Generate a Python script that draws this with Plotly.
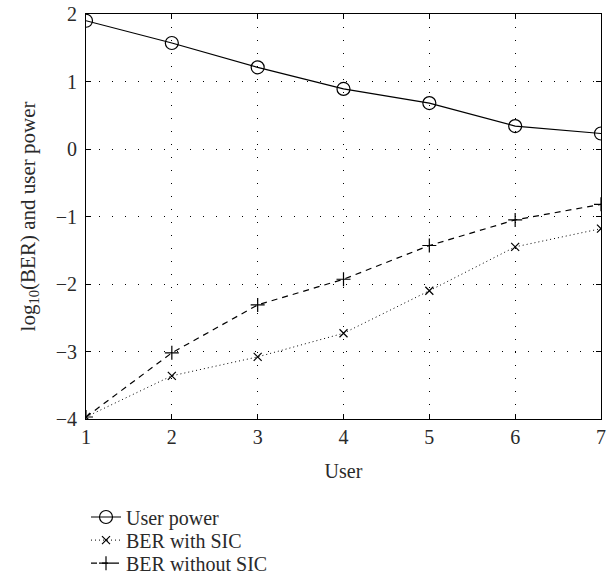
import plotly.graph_objects as go

users = [1, 2, 3, 4, 5, 6, 7]
user_power = [1.90, 1.57, 1.21, 0.89, 0.68, 0.34, 0.23]
ber_with_sic = [-3.97, -3.36, -3.08, -2.73, -2.10, -1.45, -1.18]
ber_without_sic = [-3.97, -3.02, -2.31, -1.93, -1.43, -1.05, -0.82]
y_ticks = [-4, -3, -2, -1, 0, 1, 2]
y_tick_labels = ["\u22124", "\u22123", "\u22122", "\u22121", "0", "1", "2"]

FONT = "Liberation Serif"
TXT = "#2a2a2a"
FS = 20

fig = go.Figure()
fig.add_trace(go.Scatter(
    x=users, y=user_power, name="User power", mode="lines+markers", legend="legend",
    line=dict(color="black", width=1.2),
    marker=dict(symbol="circle-open", size=13, color="black", line=dict(width=1.2)),
))
fig.add_trace(go.Scatter(
    x=users, y=ber_with_sic, name="BER with SIC", mode="lines+markers", legend="legend2",
    line=dict(color="black", width=1, dash="1px,3px"),
    marker=dict(symbol="x-thin-open", size=8, color="black", line=dict(width=1.2)),
))
fig.add_trace(go.Scatter(
    x=users, y=ber_without_sic, name="BER without SIC", mode="lines+markers", legend="legend3",
    line=dict(color="black", width=1.2, dash="6px,5px"),
    marker=dict(symbol="cross-thin-open", size=10, color="black", line=dict(width=1.2)),
))

axis_common = dict(
    showline=True, linecolor="black", linewidth=1, mirror="ticks",
    ticks="inside", ticklen=5, tickcolor="black",
    showgrid=True, gridcolor="black", griddash="1px,12px", gridwidth=1,
    zeroline=False, tickfont=dict(family=FONT, size=FS, color=TXT),
)

def leg(ypos):
    return dict(x=0.0, y=ypos, xanchor="left", yanchor="middle",
                font=dict(family=FONT, size=FS, color=TXT),
                bgcolor="rgba(0,0,0,0)", itemwidth=30)

fig.update_layout(
    width=612, height=582,
    margin=dict(l=86, r=11, t=14, b=163, autoexpand=False),
    paper_bgcolor="white", plot_bgcolor="white",
    font=dict(family=FONT, size=FS, color=TXT),
    xaxis=dict(range=[1, 7], dtick=1,
               title=dict(text="User", font=dict(family=FONT, size=FS, color=TXT), standoff=16),
               **axis_common),
    yaxis=dict(range=[-4, 2], tickvals=y_ticks, ticktext=y_tick_labels, ticklabelstandoff=4,
               title=dict(text="log<sub>10</sub>(BER) and user power",
                          font=dict(family=FONT, size=21, color=TXT), standoff=14),
               **axis_common),
    legend=leg(-0.242),
    legend2=leg(-0.299),
    legend3=leg(-0.356),
    showlegend=True,
)

fig.write_html("out.html", config={"displayModeBar": False},
               post_script="document.body.style.margin='0px';")
